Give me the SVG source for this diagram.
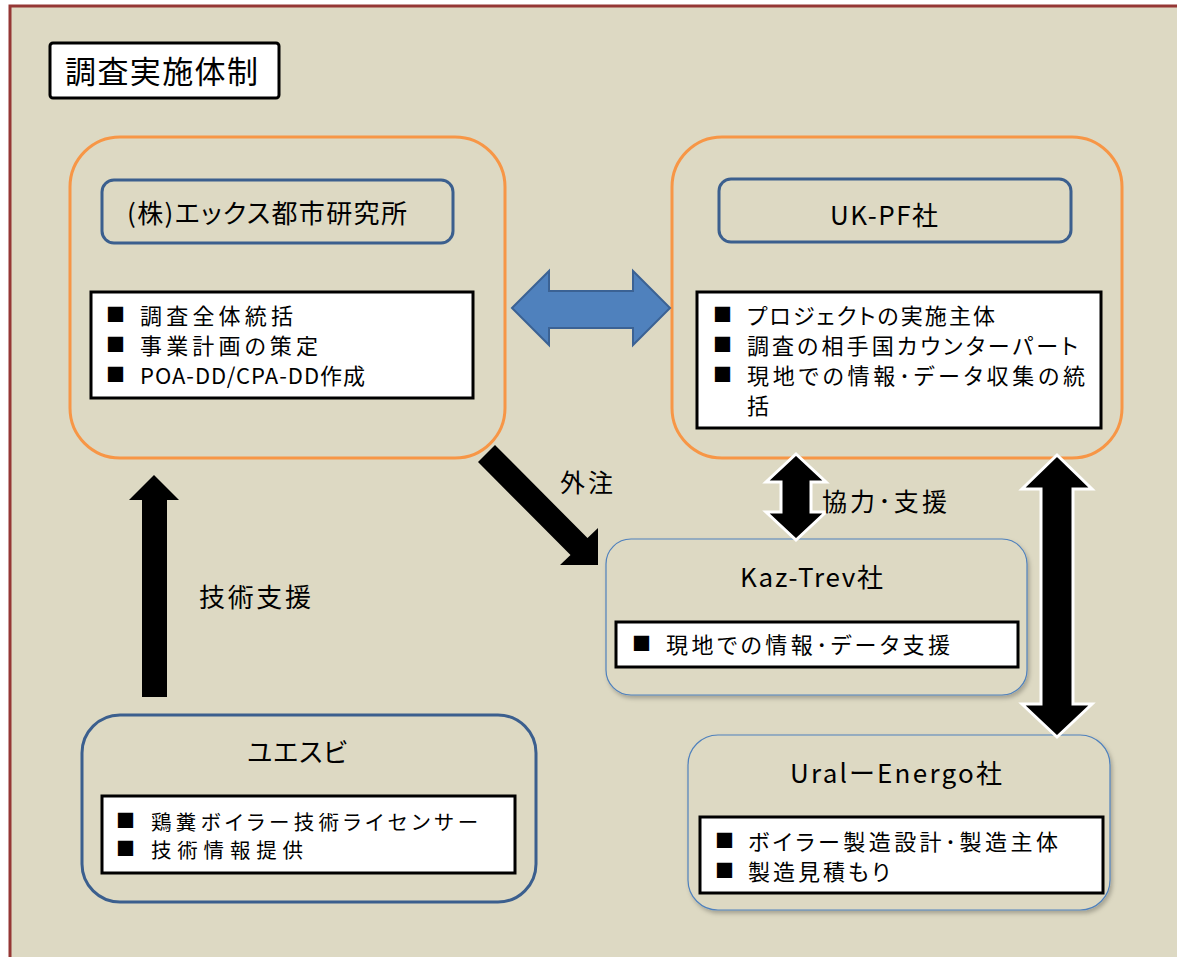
<svg xmlns="http://www.w3.org/2000/svg" width="1177" height="957" viewBox="0 0 1177 957">
<defs>
<style>
text{font-family:"Noto Sans CJK JP","Noto Sans",sans-serif;fill:#000;font-feature-settings:"palt";}
.t{font-size:22px;}
.s{font-size:20.5px;}
.l{font-size:25px;}
.h{font-size:26px;}
.b{font-size:19px;font-feature-settings:normal;}
.org{fill:none;stroke:#F79646;stroke-width:3;}
.hdr{fill:none;stroke:#3B5F8E;stroke-width:3;}
.thin{fill:#DDD9C3;stroke:#4F81BD;stroke-width:1.2;filter:url(#sh);}
.lst{fill:#fff;stroke:#000;stroke-width:3;}
.blk{fill:#000;}
.dbl{fill:#000;stroke:#fff;stroke-width:3;stroke-linejoin:miter;}
</style>
<filter id="sh" x="-10%" y="-10%" width="120%" height="130%">
<feDropShadow dx="2" dy="3" stdDeviation="2" flood-color="#000" flood-opacity="0.25"/>
</filter>
</defs>
<rect x="0" y="0" width="1177" height="957" fill="#fff"/>
<rect x="10" y="6" width="1180" height="970" fill="#DDD9C3" stroke="#953735" stroke-width="3"/>

<g id="title">
<rect x="50" y="43" width="229" height="55" rx="3" fill="#fff" stroke="#000" stroke-width="3"/>
<text x="65" y="83" style="font-size:31px" textLength="193">調査実施体制</text>
</g>

<g id="xcity">
<rect class="org" x="70" y="137" width="435" height="321" rx="50"/>
<rect class="hdr" x="102" y="180" width="351" height="63" rx="12"/>
<text class="h" x="127" y="223" textLength="280">(株)エックス都市研究所</text>
<rect class="lst" x="91" y="292" width="382" height="106"/>
<text class="b" x="106" y="322">■</text>
<text class="t" x="140" y="324" textLength="153">調査全体統括</text>
<text class="b" x="106" y="352">■</text>
<text class="t" x="140" y="354" textLength="178">事業計画の策定</text>
<text class="b" x="106" y="382">■</text>
<text class="t" x="140" y="384" textLength="225">POA-DD/CPA-DD作成</text>
</g>

<g id="ukpf">
<rect class="org" x="672" y="137" width="450" height="321" rx="50"/>
<rect class="hdr" x="719" y="179" width="352" height="63" rx="12"/>
<text class="h" x="830" y="225" textLength="108">UK-PF社</text>
<rect class="lst" x="697" y="292" width="404" height="136"/>
<text class="b" x="713" y="322">■</text>
<text class="t" x="747" y="324" textLength="248">プロジェクトの実施主体</text>
<text class="b" x="713" y="352">■</text>
<text class="t" x="747" y="354" textLength="331">調査の相手国カウンターパート</text>
<text class="b" x="713" y="382">■</text>
<text class="t" x="747" y="384" textLength="338">現地での情報･データ収集の統</text>
<text class="t" x="747" y="414">括</text>
</g>

<g id="kaztrev">
<rect class="thin" x="606" y="539" width="421" height="156" rx="25"/>
<text class="h" x="740" y="587" textLength="143">Kaz-Trev社</text>
<rect class="lst" x="616" y="622" width="402" height="45"/>
<text class="b" x="632" y="651">■</text>
<text class="t" x="666" y="653" textLength="284">現地での情報･データ支援</text>
</g>

<g id="uralenergo">
<rect class="thin" x="688" y="735" width="422" height="175" rx="30"/>
<text class="h" x="790" y="783" textLength="212">UralーEnergo社</text>
<rect class="lst" x="700" y="817" width="403" height="76"/>
<text class="b" x="715" y="848">■</text>
<text class="t" x="748" y="850" textLength="310">ボイラー製造設計･製造主体</text>
<text class="b" x="715" y="878">■</text>
<text class="t" x="748" y="880" textLength="142">製造見積もり</text>
</g>

<g id="yesb">
<rect class="hdr" x="82" y="715" width="454" height="187" rx="38"/>
<text class="h" x="247" y="762" textLength="100">ユエスビ</text>
<rect class="lst" x="102" y="796" width="413" height="77"/>
<text class="b" x="116" y="828">■</text>
<text class="s" x="151" y="830" textLength="327">鶏糞ボイラー技術ライセンサー</text>
<text class="b" x="116" y="856">■</text>
<text class="s" x="151" y="858" textLength="152">技術情報提供</text>
</g>

<g id="connectors">
<polygon points="512,308 549,271 549,291 633,291 633,271 670,308 633,345 633,328 549,328 549,345" fill="#4F81BD" stroke="#3B6294" stroke-width="2" stroke-linejoin="miter"/>
<polygon class="blk" points="495,445 587.5,538 598,528 598,565 560,565 570.5,555 478,462"/>
<text class="l" x="560" y="492" textLength="53">外注</text>
<polygon class="dbl" points="796,454 826,482 811,482 811,512 826,512 796,540 766,512 781,512 781,482 766,482"/>
<text class="l" x="822" y="511" textLength="125">協力･支援</text>
<polygon class="dbl" points="1057,455 1092,489 1073,489 1073,704 1092,704 1057,737 1022,704 1041,704 1041,489 1022,489"/>
<polygon class="blk" points="154,475 179,500 167,500 167,697 142,697 142,500 129,500"/>
<text class="h" x="199" y="607" textLength="112">技術支援</text>
</g>
</svg>
